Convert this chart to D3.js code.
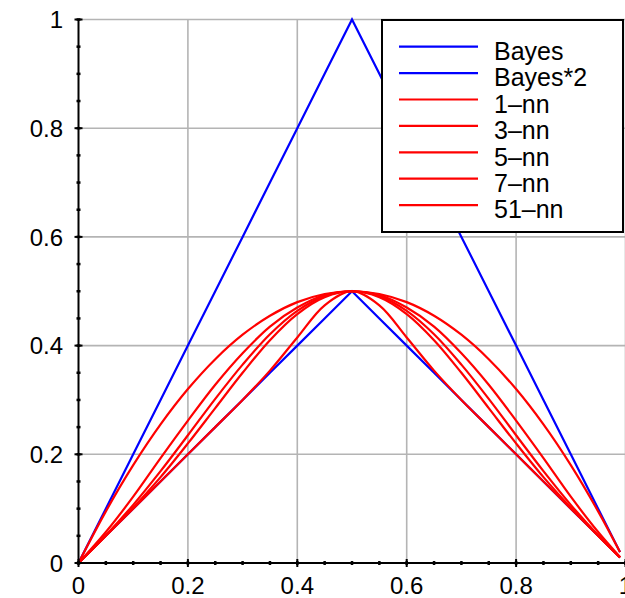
<!DOCTYPE html>
<html>
<head>
<meta charset="utf-8">
<script src="https://cdn.jsdelivr.net/npm/d3@7"></script>
<style>
  body { margin: 0; background: #fff; }
  text { font-family: "Liberation Sans", Arial, sans-serif; }
</style>
</head>
<body>
<div id="chart"></div>
<script>
// x positions of the samples
var xs = [0, 0.05, 0.1, 0.15, 0.2, 0.25, 0.3, 0.35, 0.4, 0.45, 0.5,
          0.55, 0.6, 0.65, 0.7, 0.75, 0.8, 0.85, 0.9, 0.95, 0.99];

var bayes  = [0, 0.05, 0.1, 0.15, 0.2, 0.25, 0.3, 0.35, 0.4, 0.45, 0.5,
              0.45, 0.4, 0.35, 0.3, 0.25, 0.2, 0.15, 0.1, 0.05, 0.01];
var bayes2 = [0, 0.1, 0.2, 0.3, 0.4, 0.5, 0.6, 0.7, 0.8, 0.9, 1,
              0.9, 0.8, 0.7, 0.6, 0.5, 0.4, 0.3, 0.2, 0.1, 0.02];
var nn1  = [0, 0.095, 0.18, 0.255, 0.32, 0.375, 0.42, 0.455, 0.48, 0.495, 0.5,
            0.495, 0.48, 0.455, 0.42, 0.375, 0.32, 0.255, 0.18, 0.095, 0.02];
var nn3  = [0, 0.057, 0.122, 0.193, 0.262, 0.328, 0.386, 0.435, 0.470, 0.493, 0.5,
            0.493, 0.470, 0.435, 0.386, 0.328, 0.262, 0.193, 0.122, 0.057, 0.011];
var nn5  = [0, 0.051, 0.107, 0.169, 0.235, 0.302, 0.365, 0.421, 0.464, 0.491, 0.5,
            0.491, 0.464, 0.421, 0.365, 0.302, 0.235, 0.169, 0.107, 0.051, 0.01];
var nn7  = [0, 0.050, 0.102, 0.158, 0.220, 0.285, 0.350, 0.410, 0.458, 0.489, 0.5,
            0.489, 0.458, 0.410, 0.350, 0.285, 0.220, 0.158, 0.102, 0.050, 0.01];
var nn51 = [0, 0.05, 0.1, 0.15, 0.2, 0.25, 0.300, 0.354, 0.415, 0.474, 0.5,
            0.474, 0.415, 0.354, 0.300, 0.25, 0.2, 0.15, 0.1, 0.05, 0.01];

var seriesNames  = ["Bayes", "Bayes*2", "1\u2013nn", "3\u2013nn", "5\u2013nn", "7\u2013nn", "51\u2013nn"];
var seriesValues = [bayes, bayes2, nn1, nn3, nn5, nn7, nn51];
var seriesColors = ["#0000ff", "#0000ff", "#ff0000", "#ff0000", "#ff0000", "#ff0000", "#ff0000"];

var majorTicks = [0, 0.2, 0.4, 0.6, 0.8, 1];
var tickLabels = ["0", "0.2", "0.4", "0.6", "0.8", "1"];

var width = 625, height = 598;

var svg = d3.select("#chart")
  .append("svg")
    .attr("width", width)
    .attr("height", height);

var x = d3.scaleLinear().domain([0, 1]).range([78.5, 625.5]);
var y = d3.scaleLinear().domain([0, 1]).range([563, 19.5]);

var minorTicks = d3.range(0, 21).map(function(i){ return i / 20; });

// grid
svg.append("g").selectAll("line")
  .data(majorTicks.slice(1))
  .enter().append("line")
    .attr("x1", d => x(d)).attr("x2", d => x(d))
    .attr("y1", y(0)).attr("y2", y(1))
    .style("stroke", "#b4b4b4").style("stroke-width", 1.6);
svg.append("g").selectAll("line")
  .data(majorTicks.slice(1))
  .enter().append("line")
    .attr("x1", x(0)).attr("x2", x(1))
    .attr("y1", d => y(d)).attr("y2", d => y(d))
    .style("stroke", "#b4b4b4").style("stroke-width", 1.6);

// curves
var line = d3.line()
  .x(function(d){ return x(d[0]); })
  .y(function(d){ return y(d[1]); });

seriesValues.forEach(function(vals, i) {
  var pts = xs.map(function(v, j){ return [v, vals[j]]; });
  svg.append("path")
    .datum(pts)
    .attr("d", line.curve(i < 2 ? d3.curveLinear : d3.curveCatmullRom)(pts))
    .style("fill", "none")
    .style("stroke", seriesColors[i])
    .style("stroke-width", 2.2);
});

// axes
var axis = svg.append("g").style("stroke", "#000");
axis.append("line")
  .attr("x1", x(0)).attr("x2", x(1)).attr("y1", y(0)).attr("y2", y(0))
  .style("stroke-width", 2);
axis.append("line")
  .attr("x1", x(0)).attr("x2", x(0)).attr("y1", y(0)).attr("y2", y(1))
  .style("stroke-width", 2);

axis.selectAll(".xminor").data(minorTicks).enter().append("line")
  .attr("x1", d => x(d)).attr("x2", d => x(d))
  .attr("y1", y(0) - 2).attr("y2", y(0) + 2)
  .style("stroke-width", 2.5);
axis.selectAll(".yminor").data(minorTicks).enter().append("line")
  .attr("y1", d => y(d)).attr("y2", d => y(d))
  .attr("x1", x(0) - 2).attr("x2", x(0) + 2)
  .style("stroke-width", 2.5);
axis.selectAll(".xmajor").data(majorTicks).enter().append("line")
  .attr("x1", d => x(d)).attr("x2", d => x(d))
  .attr("y1", y(0) - 4).attr("y2", y(0) + 4)
  .style("stroke-width", 2);
axis.selectAll(".ymajor").data(majorTicks).enter().append("line")
  .attr("y1", d => y(d)).attr("y2", d => y(d))
  .attr("x1", x(0) - 4).attr("x2", x(0) + 4)
  .style("stroke-width", 2);

svg.append("g").selectAll("text")
  .data(majorTicks)
  .enter().append("text")
    .attr("x", d => x(d))
    .attr("y", 594)
    .attr("text-anchor", "middle")
    .style("font-size", "24px")
    .text((d, i) => tickLabels[i]);

svg.append("g").selectAll("text")
  .data(majorTicks)
  .enter().append("text")
    .attr("x", 63)
    .attr("y", d => y(d))
    .attr("dy", "0.36em")
    .attr("text-anchor", "end")
    .style("font-size", "24px")
    .text((d, i) => tickLabels[i]);

// legend
var legend = svg.append("g");
legend.append("rect")
  .attr("x", 382).attr("y", 20)
  .attr("width", 241).attr("height", 212)
  .style("fill", "#fff")
  .style("stroke", "#000")
  .style("stroke-width", 2);

seriesNames.forEach(function(name, i) {
  var ly = 46.7 + i * 26.4;
  legend.append("line")
    .attr("x1", 399).attr("x2", 478)
    .attr("y1", ly).attr("y2", ly)
    .style("stroke", seriesColors[i])
    .style("stroke-width", 2.2);
  legend.append("text")
    .attr("x", 494)
    .attr("y", ly + 13.3)
    .style("font-size", "25px")
    .text(name);
});
</script>
</body>
</html>
